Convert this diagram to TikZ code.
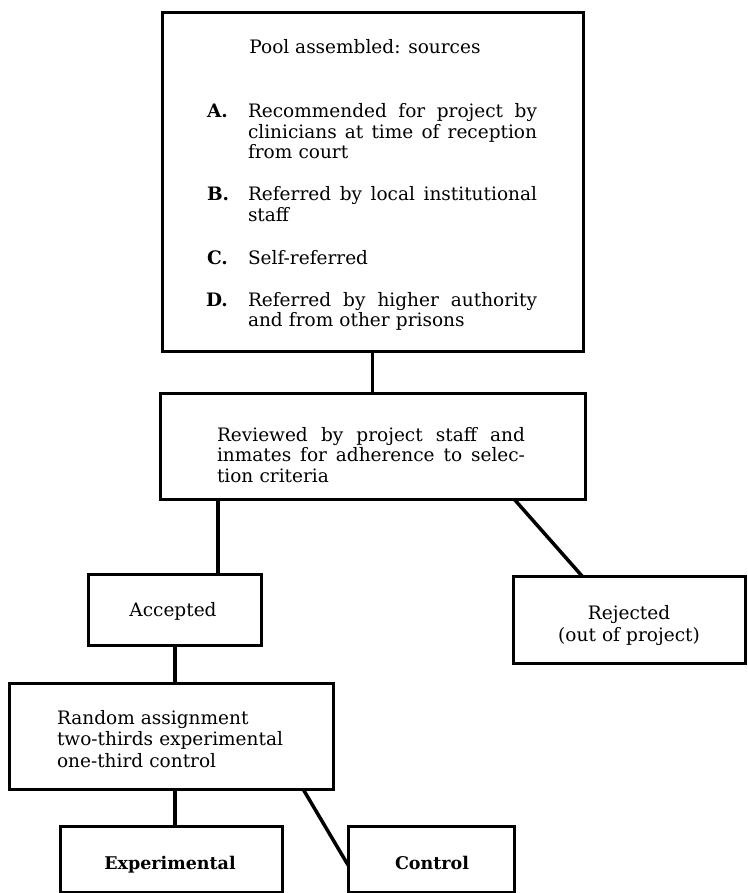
\documentclass[tikz,border=0pt]{standalone}
\usepackage{fontspec}
\setmainfont{DejaVu Serif}
\newcommand{\jline}[2]{\leavevmode\hbox to #1{#2}}
\tikzset{
  box/.style={draw, line width=3pt, inner sep=0pt, outer sep=0pt},
  link/.style={line width=3.5pt},
  txt/.style={inner sep=0pt, outer sep=0pt, font=\fontsize{18.5}{20.5}\selectfont},
  jtxt/.style={txt, align=left, anchor=base west},
}
\begin{document}
\begin{tikzpicture}[x=1pt,y=-1pt]
\useasboundingbox (0,0) rectangle (747,893);
% boxes
\node[box, minimum width=421pt, minimum height=338pt] (pool) at (372.5,182) {};
\node[box, minimum width=425pt, minimum height=106pt] (rev) at (372.5,446) {};
\node[box, minimum width=173pt, minimum height=71pt] (acc) at (174.5,609.5) {};
\node[box, minimum width=232pt, minimum height=87pt] (rej) at (629,619.5) {};
\node[box, minimum width=324pt, minimum height=106pt] (rnd) at (171,736) {};
\node[box, minimum width=222pt, minimum height=66pt] (exp) at (171,859) {};
\node[box, minimum width=166pt, minimum height=66pt] (ctl) at (431,859) {};
% connectors
\draw[link] (pool.south) -- (rev.north);
\draw[link] (rev.south -| 218,0) -- (acc.north -| 218,0);
\draw[link] (rev.south -| 514,0) -- (rej.north -| 582,0);
\draw[link] (acc.south -| 175,0) -- (rnd.north -| 175,0);
\draw[link] (rnd.south -| 175,0) -- (exp.north -| 175,0);
\draw[link] (rnd.south -| 303,0) -- (ctl.west |- 0,865);
% texts in the pool box
\node[txt, anchor=base] (ttl) at (365,54) {Pool assembled: sources};
\node[txt, anchor=base west] (la) at (207,118) {\textbf{A.}};
\node[jtxt, text width=289pt] (ta) at (248,118) {\jline{289pt}{Recommended\hfill for\hfill project\hfill by}\\\jline{289pt}{clinicians\hfill at\hfill time\hfill of\hfill reception}\\from court};
\node[txt, anchor=base west] (lb) at (207,201) {\textbf{B.}};
\node[jtxt, text width=289pt] (tb) at (248,201) {\jline{289pt}{Referred\hfill by\hfill local\hfill institutional}\\staff};
\node[txt, anchor=base west] (lc) at (207,264) {\textbf{C.}};
\node[jtxt, text width=289pt] (tc) at (248,264) {Self-referred};
\node[txt, anchor=base west] (ld) at (206,306) {\textbf{D.}};
\node[jtxt, text width=289pt] (td) at (248,306) {\jline{289pt}{Referred\hfill by\hfill higher\hfill authority}\\and from other prisons};
% other texts
\node[jtxt, text width=308pt] (trev) at (217,441) {\jline{308pt}{Reviewed\hfill by\hfill project\hfill staff\hfill and}\\\jline{308pt}{inmates\hfill for\hfill adherence\hfill to\hfill selec-}\\tion criteria};
\node[txt, anchor=base] (tacc) at (173,616) {Accepted};
\node[txt, anchor=base, align=center, text width=220pt, font=\fontsize{18.5}{22}\selectfont] (trej) at (629,619) {Rejected\\(out of project)};
\node[jtxt, text width=270pt, font=\fontsize{18.5}{21.5}\selectfont] (trnd) at (57,724) {Random assignment\\two-thirds experimental\\one-third control};
\node[txt, anchor=base, font=\fontsize{17.5}{20}\selectfont\bfseries] (texp) at (170,869) {Experimental};
\node[txt, anchor=base, font=\fontsize{17.5}{20}\selectfont\bfseries] (tctl) at (432,869) {Control};
\end{tikzpicture}
\end{document}
